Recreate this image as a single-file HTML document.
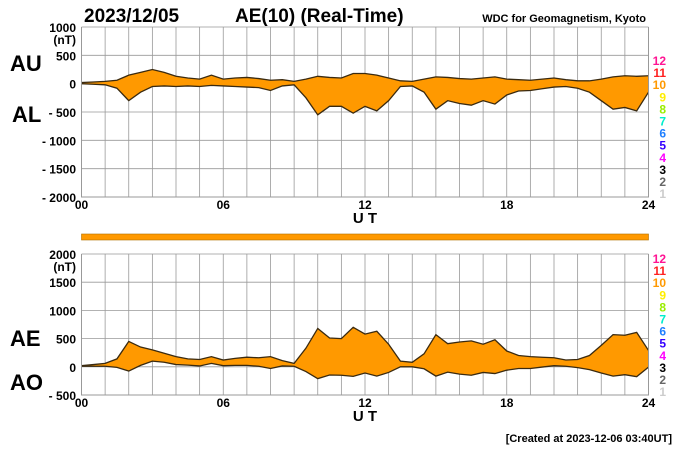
<!DOCTYPE html>
<html><head><meta charset="utf-8"><style>
body{margin:0;background:#fff}
svg{display:block;font-family:"Liberation Sans",Arial,sans-serif}
</style></head><body>
<svg id="chart" width="700" height="450" viewBox="0 0 700 450">
<text x="84" y="22" font-size="19" font-weight="bold">2023/12/05</text>
<text x="235" y="22" font-size="19" font-weight="bold">AE(10) (Real-Time)</text>
<text x="646" y="22" font-size="11" font-weight="bold" text-anchor="end">WDC for Geomagnetism, Kyoto</text>
<text x="10" y="71" font-size="22" font-weight="bold">AU</text>
<text x="12" y="122" font-size="22" font-weight="bold">AL</text>
<text x="10" y="346" font-size="22" font-weight="bold">AE</text>
<text x="10" y="390" font-size="22" font-weight="bold">AO</text>
<text x="672" y="442" font-size="11" font-weight="bold" text-anchor="end">[Created at 2023-12-06 03:40UT]</text>
<g id="g"></g>
</svg>
<script>
const hours=[0,0.5,1,1.5,2,2.5,3,3.5,4,4.5,5,5.5,6,6.5,7,7.5,8,8.5,9,9.5,10,10.5,11,11.5,12,12.5,13,13.5,14,14.5,15,15.5,16,16.5,17,17.5,18,18.5,19,19.5,20,20.5,21,21.5,22,22.5,23,23.5,24];
const au=[20,30,40,60,150,200,250,200,130,100,80,150,80,100,110,90,60,70,40,80,130,110,100,180,180,150,100,50,40,80,120,110,90,80,100,120,80,70,60,80,100,70,50,50,80,120,140,130,140];
const al=[0,-10,-20,-80,-300,-150,-50,-40,-50,-40,-50,-30,-40,-50,-60,-70,-120,-40,-20,-250,-550,-400,-400,-520,-400,-480,-300,-50,-40,-150,-450,-300,-350,-380,-300,-360,-200,-130,-120,-90,-60,-50,-80,-150,-300,-450,-420,-480,-150];
const ae=[20,40,60,140,450,350,300,240,180,140,130,180,120,150,170,160,180,110,60,330,680,510,500,700,580,630,400,100,80,230,570,410,440,460,400,480,280,200,180,170,160,120,130,200,380,570,560,610,290];
const ao=[10,10,10,-10,-75,25,100,80,40,30,15,60,20,25,25,10,-30,15,10,-85,-210,-145,-150,-170,-110,-165,-100,0,0,-35,-165,-95,-130,-150,-100,-120,-60,-30,-30,-5,20,10,-15,-50,-110,-165,-140,-175,-5];
const topTicks=["1000","500","0","- 500","- 1000","- 1500","- 2000"];
const topTickVals=[1000,500,0,-500,-1000,-1500,-2000];
const botTicks=["2000","1500","1000","500","0","- 500"];
const botTickVals=[2000,1500,1000,500,0,-500];
const xTicks=["00","06","12","18","24"];
const xTickVals=[0,6,12,18,24];
const legendNums=["12","11","10","9","8","7","6","5","4","3","2","1"];
const legendCols=["#ff1493","#ff2020","#ff9900","#ffee00","#99ee00","#00eecc","#1e7fff","#3300ff","#ff00ff","#000000","#666666","#cccccc"];

const NS="http://www.w3.org/2000/svg",G=document.getElementById('g');
function mk(t,a,p){const e=document.createElementNS(NS,t);for(const k in a)e.setAttribute(k,a[k]);(p||G).appendChild(e);return e;}
const X0=81.5,X1=648.5;
const xs=h=>X0+(X1-X0)*h/24;
function panel(name,top,bot,vmax,vmin,ticks,tickVals,up,lo){
  const ys=v=>top+(bot-top)*(vmax-v)/(vmax-vmin);
  const g=mk('g',{});
  
  
  for(let h=1;h<24;h++){const l=mk('line',{x1:xs(h),x2:xs(h),y1:top,y2:bot,stroke:'#999','stroke-width':0.8},g);
    }
  tickVals.forEach((v,i)=>{
    const l=mk('line',{x1:X0,x2:X1,y1:ys(v),y2:ys(v),stroke:'#999','stroke-width':0.8},g);
    
    const t=mk('text',{x:76,y:ys(v)+5,'font-size':12,'font-weight':'bold','text-anchor':'end'},g);
    t.textContent=ticks[i];
    
  });
  const u=mk('text',{x:76,y:ys(tickVals[0])+17,'font-size':12,'font-weight':'bold','text-anchor':'end'},g);
  u.textContent='(nT)';
  let d='M'+hours.map((h,i)=>xs(h).toFixed(1)+','+ys(up[i]).toFixed(1)).join('L');
  d+='L'+hours.slice().reverse().map((h,j)=>{const i=hours.length-1-j;return xs(h).toFixed(1)+','+ys(lo[i]).toFixed(1);}).join('L')+'Z';
  const a=mk('path',{d:d,fill:'#ff9900',stroke:'none'},g);
  
  const l1=mk('polyline',{points:hours.map((h,i)=>xs(h)+','+ys(up[i])).join(' '),fill:'none',stroke:'#3a2a10','stroke-width':1.3},g);
  
  const l2=mk('polyline',{points:hours.map((h,i)=>xs(h)+','+ys(lo[i])).join(' '),fill:'none',stroke:'#3a2a10','stroke-width':1.3},g);
  
  const ax=mk('path',{d:`M${X0},${top}V${bot}H${X1}V${top}`,fill:'none',stroke:'#999','stroke-width':1},g);
  
  xTickVals.forEach((h,i)=>{
    const t=mk('text',{x:xs(h),y:bot+12,'font-size':12,'font-weight':'bold','text-anchor':'middle'},g);
    t.textContent=xTicks[i];
  });
  const xt=mk('text',{x:xs(12),y:bot+26,'font-size':15,'font-weight':'bold','text-anchor':'middle'},g);
  xt.textContent='U T';
}
function legend(y0){
  legendNums.forEach((n,i)=>{
    const t=mk('text',{x:666,y:y0+i*12.1,'font-size':12,'font-weight':'bold','text-anchor':'end',fill:legendCols[i]});
    t.textContent=n;
  });
}
panel('au-al',27,197,1000,-2000,topTicks,topTickVals,au,al);
panel('ae-ao',254,366+29,2000,-500,botTicks,botTickVals,ae,ao);
legend(65);legend(263);
const bar=mk('rect',{x:X0,y:234,width:X1-X0,height:6,fill:'#ff9900',stroke:'#b07000','stroke-width':0.6});

</script>
</body></html>
